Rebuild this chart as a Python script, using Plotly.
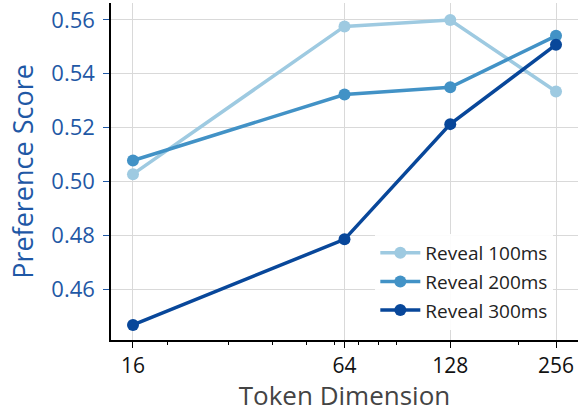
import plotly.graph_objects as go
import math

token_dims = [16, 64, 128, 256]
tick_labels = ["16", "64", "128", "256"]
reveal_100 = [0.5027, 0.5576, 0.5600, 0.5334]
reveal_200 = [0.5078, 0.5323, 0.5350, 0.5541]
reveal_300 = [0.4467, 0.4785, 0.5213, 0.5508]
series_names = ["Reveal 100ms", "Reveal 200ms", "Reveal 300ms"]
colors = ["#9ecae1", "#4292c6", "#08479a"]
minor_ticks = [20, 30, 40, 50, 60, 70, 80, 90, 200]
y_ticks = [0.46, 0.48, 0.50, 0.52, 0.54, 0.56]

fig = go.Figure()
for name, vals, c in zip(series_names, [reveal_100, reveal_200, reveal_300], colors):
    fig.add_trace(go.Scatter(
        x=token_dims, y=vals, name=name, mode="lines+markers",
        legendgroup=name,
        line=dict(color=c, width=3.5),
        marker=dict(color=c, size=12),
    ))

font = "'Open Sans', sans-serif"
blue = "#1f58a5"
fig.update_layout(
    width=578, height=413,
    margin=dict(l=111, r=0, t=3, b=73),
    plot_bgcolor="white", paper_bgcolor="white",
    font=dict(family=font, color="#222"),
    showlegend=True,
    legend=dict(
        x=0.566, xanchor="left", y=0.315, yanchor="top",
        bgcolor="rgba(255,255,255,0.92)", borderwidth=0,
        font=dict(size=19, family=font, color="#222"),
        itemwidth=40, tracegroupgap=1,
    ),
    xaxis=dict(
        type="log", automargin=False,
        range=[math.log10(16) - 0.0626, math.log10(256) + 0.0626],
        tickmode="array", tickvals=token_dims, ticktext=tick_labels,
        ticks="outside", ticklen=6, tickwidth=1.2, tickcolor="black",
        tickfont=dict(size=21, color="#111", family=font),
        showline=True, linecolor="black", linewidth=1.5,
        showgrid=True, gridcolor="#d9d9d9", gridwidth=1,
        zeroline=False,
        title=dict(text="Token Dimension", font=dict(size=26, color="#444", family=font), standoff=12),
        minor=dict(tickmode="array", tickvals=minor_ticks, ticks="outside",
                   ticklen=3.5, tickcolor="black", tickwidth=1, showgrid=False),
    ),
    yaxis=dict(
        automargin=False,
        range=[0.4411, 0.5663],
        tickmode="array", tickvals=y_ticks,
        ticktext=[f"{v:.2f}" for v in y_ticks],
        ticks="outside", ticklen=6, tickwidth=1.2, tickcolor=blue,
        tickfont=dict(size=22, color=blue, family=font),
        ticklabelstandoff=4,
        showline=True, linecolor="black", linewidth=1.5,
        showgrid=True, gridcolor="#d9d9d9", gridwidth=1,
        zeroline=False,
        title=dict(text="Preference Score", font=dict(size=27, color=blue, family=font), standoff=10),
    ),
)

fig.write_html("out.html", config={"displayModeBar": False},
               post_script="document.body.style.margin='0';")
